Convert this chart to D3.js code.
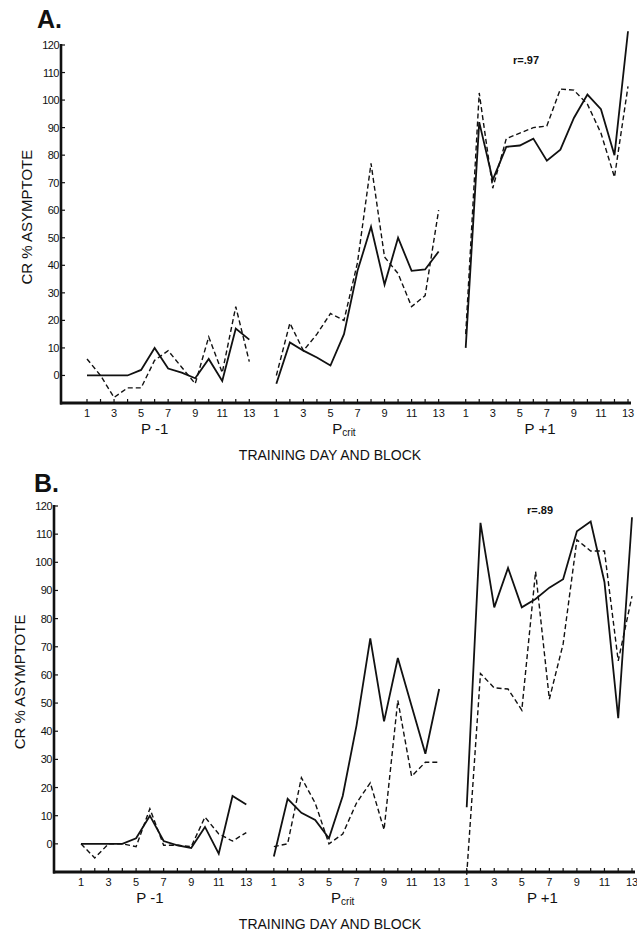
<!DOCTYPE html>
<html><head><meta charset="utf-8">
<script src="https://cdn.jsdelivr.net/npm/d3@7"></script>
<style>body{margin:0;background:#fff}svg{display:block}text{font-family:"Liberation Sans",Arial,sans-serif;fill:#111}</style>
</head><body><svg id="c" width="637" height="936"></svg>
<script>
// ---- data ----
const groups = ["P -1", "Pcrit", "P +1"];
const blocks = [1,2,3,4,5,6,7,8,9,10,11,12,13];
const blockLabels = [1,3,5,7,9,11,13];
const yTicks = [0,10,20,30,40,50,60,70,80,90,100,110,120];

// Panel A
const aSolidPm1  = [0,0,0,0,2,10,2.5,1,-1,6,-2,17,13];
const aDashPm1   = [6,0,-8,-4.5,-4.5,5.5,9,3,-3,14,1,25,5];
const aSolidPc   = [-3,12,9,6.5,3.6,15,38,54,33,50,38,38.5,45];
const aDashPc    = [0,19,9,15,22.5,20,41,77,43,37,25,29,60];
const aSolidPp1  = [10,92,71,83,83.5,86,78,82,93.5,102,96.7,80,125];
const aDashPp1   = [15,102.6,68,86,88,90,90.6,104,103.6,98.5,88,72,105];
const aR = "r=.97";

// Panel B
const bSolidPm1  = [0,0,0,0,2,10,1,-0.5,-1.5,6,-3.5,17,14];
const bDashPm1   = [0,-5,0,0,-1,12.5,-0.5,-0.5,-1,9.5,3.5,1,4];
const bSolidPc   = [-4.5,16,11,8.5,2,17,42,73,43.5,66,49,32,55];
const bDashPc    = [-1,0,23.5,14.5,0,3.5,14.5,21.7,5,51,24,29,29];
const bSolidPp1  = [13,114,84,98,84,87,91,94,111,114.5,93,44.6,116];
const bDashPp1   = [-11,60.5,55.4,55,47.5,96.7,51.4,71,108,104,104,65,88];
const bR = "r=.89";

const svg = d3.select("#c");

function panel(cfg){
  const g = svg.append("g");
  const x = d3.scaleLinear().domain([0,40]).range([cfg.x0, cfg.x1]);
  const y = d3.scaleLinear().domain([-10,120]).range([cfg.yb, cfg.yt]);
  const pos = (gi,b) => gi*14 + (b-1);

  // panel letter
  g.append("text").attr("x", cfg.lx).attr("y", cfg.ly).attr("font-size", 25).attr("font-weight","bold").text(cfg.letter);

  // y axis
  g.append("line").attr("x1", cfg.ax).attr("x2", cfg.ax).attr("y1", y(120)-1).attr("y2", cfg.yb+1.5)
    .attr("stroke","#111").attr("stroke-width",2.6);
  yTicks.forEach(t=>{
    g.append("line").attr("x1",cfg.ax).attr("x2",cfg.ax+4).attr("y1",y(t)).attr("y2",y(t)).attr("stroke","#111").attr("stroke-width",1.2);
    g.append("text").attr("x",cfg.ax-2).attr("y",y(t)+4).attr("text-anchor","end").attr("font-size",11).attr("letter-spacing","-0.5").text(t);
  });
  g.append("text").attr("transform",`translate(${cfg.ax-29},${y(57.5)}) rotate(-90)`).attr("text-anchor","middle")
    .attr("font-size",15).text("CR % ASYMPTOTE");

  // x axis
  g.append("line").attr("x1",cfg.ax-1).attr("x2",x(40)+3).attr("y1",cfg.yb).attr("y2",cfg.yb)
    .attr("stroke","#111").attr("stroke-width",3);
  groups.forEach((gn,gi)=>{
    blocks.forEach(b=>{
      g.append("line").attr("x1",x(pos(gi,b))).attr("x2",x(pos(gi,b))).attr("y1",cfg.yb).attr("y2",cfg.yb-4)
        .attr("stroke","#111").attr("stroke-width",1.2);
    });
    blockLabels.forEach(b=>{
      g.append("text").attr("x",x(pos(gi,b))).attr("y",cfg.yb+14).attr("text-anchor","middle").attr("font-size",11).text(b);
    });
    const cx = x(pos(gi, gi===2 ? 6.5 : 6));
    const t = g.append("text").attr("x",cx).attr("y",cfg.yb+31).attr("text-anchor","middle").attr("font-size",15);
    if(gn==="Pcrit"){ t.text("P"); t.append("tspan").attr("font-size",10).attr("dy",2).text("crit"); }
    else t.text(gn);
  });
  g.append("text").attr("x",330).attr("y",cfg.yb+cfg.tdy).attr("text-anchor","middle").attr("font-size",14).text("TRAINING DAY AND BLOCK");
  g.append("text").attr("x",cfg.rx).attr("y",cfg.ry).attr("text-anchor","middle").attr("font-size",11).attr("font-weight","bold").text(cfg.r);

  const line = d3.line().x(d=>x(d[0])).y(d=>y(d[1]));
  cfg.series.forEach(s=>{
    s.data.forEach((arr,gi)=>{
      const pts = arr.map((v,i)=>[pos(gi,blocks[i]),v]);
      g.append("path").attr("d",line(pts)).attr("fill","none").attr("stroke","#111")
        .attr("stroke-width", s.dash?1.4:1.8).attr("stroke-dasharray", s.dash?"5,3":null)
        .attr("stroke-linejoin","miter");
    });
  });
}

panel({letter:"A.", lx:37, ly:28, ax:61, x0:87, x1:628, yb:403, yt:45, tdy:57, rx:526, ry:64, r:aR,
  series:[{dash:false,data:[aSolidPm1,aSolidPc,aSolidPp1]},{dash:true,data:[aDashPm1,aDashPc,aDashPp1]}]});
panel({letter:"B.", lx:34, ly:492, ax:54, x0:81, x1:632, yb:872, yt:506, tdy:57, rx:540, ry:514, r:bR,
  series:[{dash:false,data:[bSolidPm1,bSolidPc,bSolidPp1]},{dash:true,data:[bDashPm1,bDashPc,bDashPp1]}]});
</script></body></html>
